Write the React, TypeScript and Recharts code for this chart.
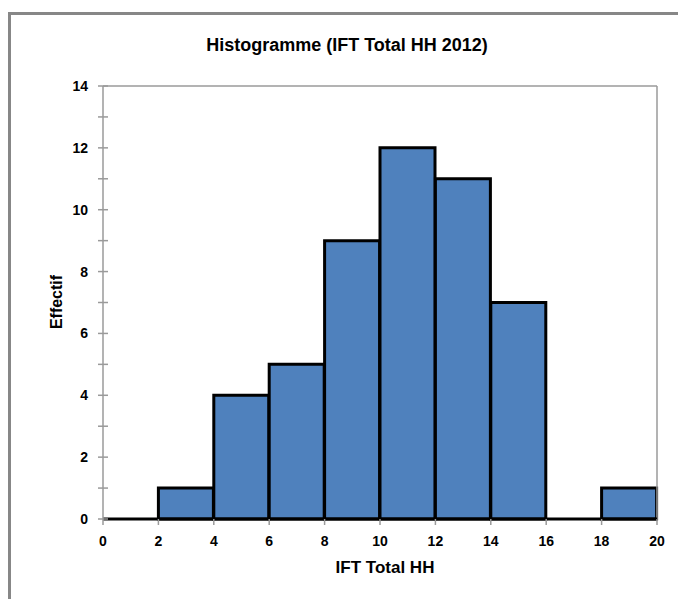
import React from "react";
import {
  Bar,
  BarChart,
  ReferenceLine,
  XAxis,
  YAxis,
} from "recharts";

const bins = ["0-2", "2-4", "4-6", "6-8", "8-10", "10-12", "12-14", "14-16", "16-18", "18-20"];
const mids = [1, 3, 5, 7, 9, 11, 13, 15, 17, 19];
const counts = [0, 1, 4, 5, 9, 12, 11, 7, 0, 1];
const xTicks = [0, 2, 4, 6, 8, 10, 12, 14, 16, 18, 20];
const yTicks = [0, 1, 2, 3, 4, 5, 6, 7, 8, 9, 10, 11, 12, 13, 14];

const data = bins.map((bin, i) => ({ bin, mid: mids[i], count: counts[i] }));

const font = "'Liberation Sans Narrow', 'Liberation Sans', Arial, sans-serif";

const YTick = (props: any) => {
  const { x, y, payload } = props;
  const v = payload.value;
  return (
    <g>
      <line x1={x - 5} x2={x + 5} y1={y} y2={y} stroke="#9a9a9a" strokeWidth={1.5} />
      {v % 2 === 0 && (
        <text x={x - 15} y={y + 5} textAnchor="end" fontSize={14} fontWeight="bold" fill="#000">
          {v}
        </text>
      )}
    </g>
  );
};

const XTick = (props: any) => {
  const { x, y, payload } = props;
  return (
    <g>
      <line x1={x} x2={x} y1={y} y2={y + 6} stroke="#9a9a9a" strokeWidth={1.5} />
      <text x={x} y={y + 27} textAnchor="middle" fontSize={14} fontWeight="bold" fill="#000">
        {payload.value}
      </text>
    </g>
  );
};

export default function App() {
  return (
    <div style={{ position: "absolute", left: 0, top: 0, width: 678, height: 599, background: "#fff", fontFamily: font, overflow: "hidden" }}>
      <div
        style={{
          position: "absolute",
          left: 8,
          top: 12,
          width: 700,
          height: 620,
          borderTop: "3px solid #878787",
          borderLeft: "3px solid #878787",
        }}
      />
      <div
        style={{
          position: "absolute",
          left: 0,
          width: 694,
          top: 35,
          textAlign: "center",
          fontSize: 18,
          fontWeight: "bold",
        }}
      >
        Histogramme (IFT Total HH 2012)
      </div>
      <div
        style={{
          position: "absolute",
          left: 57,
          top: 302,
          transform: "translate(-50%, -50%) rotate(-90deg)",
          fontSize: 16,
          fontWeight: "bold",
          whiteSpace: "nowrap",
        }}
      >
        Effectif
      </div>
      <div
        style={{
          position: "absolute",
          left: 385,
          top: 568,
          transform: "translate(-50%, -50%)",
          fontSize: 17,
          fontWeight: "bold",
          whiteSpace: "nowrap",
        }}
      >
        IFT Total HH
      </div>
      <div style={{ position: "absolute", left: 0, top: 0 }}>
        <BarChart
          width={678}
          height={599}
          data={data}
          barCategoryGap={0}
          margin={{ top: 86, right: 21, left: 43, bottom: 50 }}
          style={{ fontFamily: font }}
        >
          <XAxis xAxisId="cat" dataKey="bin" type="category" hide height={0} />
          <XAxis
            xAxisId="num"
            dataKey="mid"
            type="number"
            domain={[0, 20]}
            ticks={xTicks}
            allowDataOverflow
            height={30}
            tickSize={0}
            tickMargin={0}
            tickLine={false}
            axisLine={false}
            tick={<XTick />}
            interval={0}
          />
          <YAxis
            type="number"
            domain={[0, 14]}
            ticks={yTicks}
            interval={0}
            width={60}
            tickSize={0}
            tickMargin={0}
            tickLine={false}
            axisLine={{ stroke: "#9a9a9a", strokeWidth: 1.5 }}
            tick={<YTick />}
          />
          <ReferenceLine xAxisId="cat" y={14} stroke="#9a9a9a" strokeWidth={1.5} />
          <ReferenceLine xAxisId="num" x={20} stroke="#9a9a9a" strokeWidth={1.5} />
          <Bar
            xAxisId="cat"
            dataKey="count"
            fill="#4f81bd"
            stroke="#000"
            strokeWidth={3}
            isAnimationActive={false}
          />
          <ReferenceLine xAxisId="cat" y={0} stroke="#000" strokeWidth={3} />
        </BarChart>
      </div>
    </div>
  );
}
